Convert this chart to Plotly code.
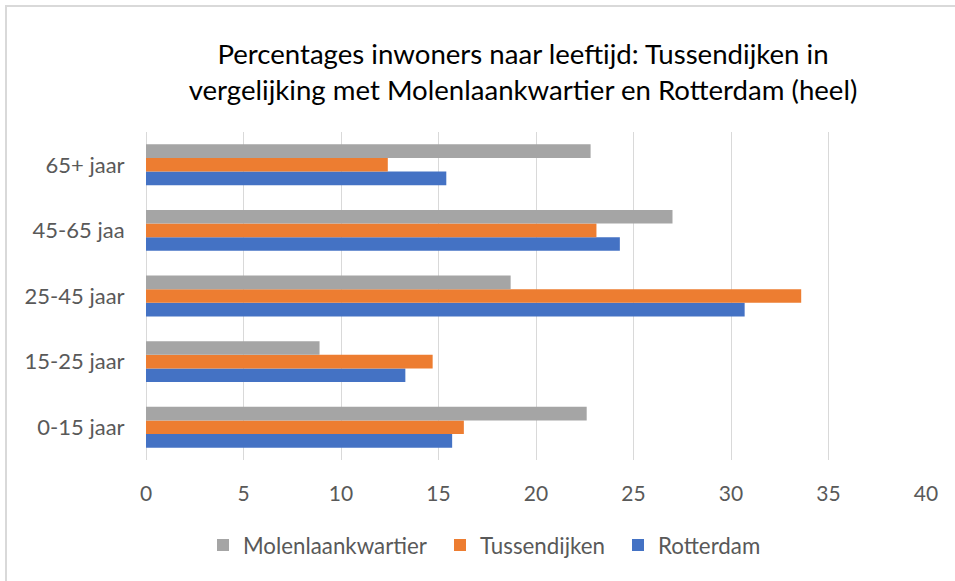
import plotly.graph_objects as go

categories = ["0-15 jaar", "15-25 jaar", "25-45 jaar", "45-65 jaa", "65+ jaar"]
molenlaankwartier = [22.6, 8.9, 18.7, 27.0, 22.8]
tussendijken = [16.3, 14.7, 33.6, 23.1, 12.4]
rotterdam = [15.7, 13.3, 30.7, 24.3, 15.4]
x_ticks = [0, 5, 10, 15, 20, 25, 30, 35, 40]

FONT = "Lato, 'Open Sans', sans-serif"

fig = go.Figure()
fig.add_trace(go.Bar(y=categories, x=rotterdam, name="Rotterdam", orientation="h", legend="legend3",
                     marker=dict(color="#4472C4", line=dict(width=0))))
fig.add_trace(go.Bar(y=categories, x=tussendijken, name="Tussendijken", orientation="h", legend="legend2",
                     marker=dict(color="#ED7D31", line=dict(width=0))))
fig.add_trace(go.Bar(y=categories, x=molenlaankwartier, name="Molenlaankwartier", orientation="h", legend="legend",
                     marker=dict(color="#A5A5A5", line=dict(width=0))))

L, R, T, B = 146, 29, 132, 121
W, H = 955, 581
pw, ph = W - L - R, H - T - B

def px(x):
    return (x - L) / pw

def py(y):
    return (H - B - y) / ph

def leg(xpix):
    return dict(orientation="h", x=px(xpix), xanchor="left", y=py(545), yanchor="middle",
                font=dict(size=22.3, color="#595959"), itemwidth=30, bgcolor="rgba(0,0,0,0)")

fig.update_layout(
    width=W, height=H,
    margin=dict(l=L, r=R, t=T, b=B),
    paper_bgcolor="white", plot_bgcolor="white",
    barmode="group", bargap=0.376, bargroupgap=0,
    font=dict(family=FONT, color="#595959", size=20),
    title=dict(text="Percentages inwoners naar leeftijd: Tussendijken in<br>vergelijking met Molenlaankwartier en Rotterdam (heel)",
               x=523 / W, xanchor="center", y=1 - 64 / H, yanchor="middle",
               font=dict(family=FONT, size=27.6, color="#000000")),
    xaxis=dict(range=[0, 40], tickvals=x_ticks, showgrid=True, gridcolor="#D9D9D9", gridwidth=1,
               zeroline=True, zerolinecolor="#D9D9D9", zerolinewidth=1, showline=False,
               ticks="outside", ticklen=15, tickcolor="rgba(0,0,0,0)",
               tickfont=dict(size=21, color="#595959"), fixedrange=True),
    yaxis=dict(showgrid=False, zeroline=False, showline=False,
               ticks="outside", ticklen=16, tickcolor="rgba(0,0,0,0)",
               tickfont=dict(size=22, color="#595959"), fixedrange=True),
    legend=leg(203),
    legend2=leg(440),
    legend3=leg(618),
    showlegend=True,
)

fig.add_shape(type="line", xref="paper", yref="paper", x0=px(6), x1=px(6), y0=py(6), y1=py(H + 5),
              line=dict(color="#D9D9D9", width=2))
fig.add_shape(type="line", xref="paper", yref="paper", x0=px(5), x1=px(W + 5), y0=py(6), y1=py(6),
              line=dict(color="#D9D9D9", width=2))

fig.write_html("out.html", config={"displayModeBar": False},
               post_script="document.body.style.margin='0';document.body.style.overflow='hidden';")
